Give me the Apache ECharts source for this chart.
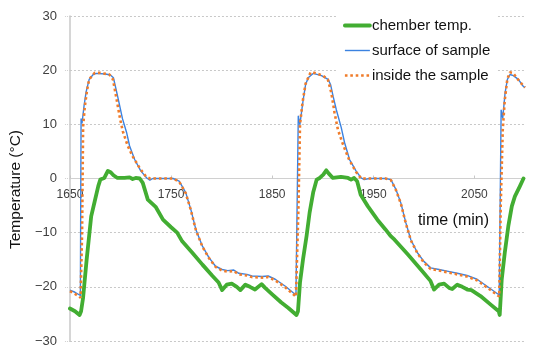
<!DOCTYPE html>
<html>
<head>
<meta charset="utf-8">
<script src="https://cdn.jsdelivr.net/npm/echarts@6/dist/echarts.min.js"></script>
<style>html,body{margin:0;padding:0;background:#fff}#c{width:550px;height:355px}</style>
</head>
<body>
<div id="c"></div>
<script>
// ---- data ----
var seriesNames = ['chember temp.', 'surface of sample', 'inside the sample'];

var chamberTime = [1650,1655,1659.5,1661,1663,1666.5,1671,1674.5,1678,1680,1684,1687.5,1690.5,1693,1697,1704,1709,1712,1715,1719,1722,1727,1735,1742,1750,1756,1761,1771,1781,1791,1797,1800.5,1805,1810,1815,1818.5,1823.5,1828,1833,1839.5,1843,1850,1859,1866,1874,1875.5,1877.5,1880.5,1884,1887,1890.5,1894,1897,1900.5,1903.5,1906,1910,1918,1925,1928,1931,1934,1937.5,1944.5,1954,1962,1967,1971,1984,1997,2006.5,2010,2015,2020,2025,2028,2033,2038,2043,2047,2056,2065.5,2074,2075,2077,2080,2083.5,2087,2090,2095,2098.5];
var chamberTemp = [-24.0,-24.5,-25.2,-24.5,-22.0,-15.0,-7.0,-4.2,-1.4,-0.2,0.1,1.4,1.1,0.6,0.1,0.1,0.2,-0.1,0.1,0,-0.8,-3.9,-5.3,-7.6,-9.0,-10.0,-11.6,-13.7,-15.9,-18.0,-19.2,-20.6,-19.6,-19.4,-20.0,-20.6,-19.6,-20.0,-20.5,-19.5,-20.2,-21.4,-22.9,-23.9,-25.2,-24.5,-19.2,-14.9,-10.6,-6.3,-2.6,-0.2,0.1,0.7,1.5,0.9,0.1,0.3,0.1,-0.2,0.1,-0.5,-3.0,-5.1,-7.6,-9.4,-10.6,-11.3,-14.0,-16.8,-18.9,-20.5,-19.6,-19.4,-20.2,-20.4,-19.6,-20.0,-20.5,-20.6,-21.7,-23.2,-24.5,-25.2,-18.6,-13.7,-8.8,-5.1,-3.3,-1.4,0];

var surfaceTime = [1650,1655,1660.3,1661,1662,1664,1666,1669,1673,1676,1685,1690,1693,1697,1702,1706,1709,1714,1720,1726,1729,1732,1752,1758,1764.5,1769.5,1774.5,1781,1787.5,1794,1800.5,1806,1812,1817,1825,1830,1840,1846,1853,1863,1873.5,1875.8,1877.4,1880.7,1883,1885.6,1890.5,1898.7,1905.3,1907.8,1910.2,1913.4,1918.3,1921.6,1926.5,1933,1938,1941,1946,1962,1967.4,1972.3,1977.2,1982.2,1987.1,1993.6,2000,2006.7,2015,2023,2033,2042.7,2052.6,2062.4,2074.5,2076.4,2078,2080.3,2082.6,2085.2,2088.5,2093.4,2098.3,2100];
var surfaceTemp = [-20.6,-21.0,-21.6,11.0,10.3,13.5,16.0,18.3,19.2,19.4,19.3,19.1,18.6,15.3,11.0,8.5,6.0,3.5,1.4,0.1,-0.3,0,0,-0.5,-2.6,-5.7,-9.4,-12.5,-14.6,-16.2,-16.8,-17.0,-16.9,-17.5,-17.7,-18.0,-18.1,-18.0,-18.6,-19.9,-21.5,11.5,10.0,14.6,17.3,18.6,19.4,19.0,18.3,17.3,15.2,12.7,9.4,6.6,3.5,1.35,0.1,-0.2,0,0,-0.2,-2.0,-4.5,-8.2,-11.3,-13.7,-15.3,-16.5,-16.8,-17.1,-17.5,-17.9,-18.6,-19.9,-21.5,12.6,11.2,15.8,18.3,19.2,19.0,18.3,17.0,16.8];

var insideTime = [1650,1655,1660.5,1662,1663,1664.7,1667,1669,1674.5,1680,1689,1692.5,1695,1697.4,1699.7,1702.3,1707.2,1712,1718.7,1725,1729,1752,1758,1764.5,1769.5,1774.5,1781,1787.5,1794,1800.5,1806,1812,1817,1825,1830,1840,1846,1853,1863,1873.5,1876,1877.5,1880,1883,1888,1892,1900,1905,1908.5,1911.7,1915,1920,1926,1933,1938,1962,1967.4,1972.3,1977.2,1982.2,1987.1,1993.6,2000,2006.7,2015,2023,2033,2042.7,2052.6,2062.4,2074.5,2076,2078,2080,2082.5,2085,2088,2093,2098,2100];
var insideTemp = [-20.8,-21.3,-22.0,-10.0,9.6,13.3,16.4,18.3,19.5,19.5,19.2,18.3,15.8,13.3,10.9,8.7,6.0,4.1,2.0,0.4,0,0,-0.6,-2.7,-5.8,-9.5,-12.6,-14.7,-16.3,-17.0,-17.2,-17.1,-17.7,-17.9,-18.2,-18.3,-18.2,-18.8,-20.1,-21.8,-5.0,10.0,14.0,17.5,19.6,19.5,19.0,18.3,15.8,12.1,9.0,6.3,3.5,1.2,0,0,-0.3,-2.1,-4.6,-8.3,-11.4,-13.8,-15.5,-16.7,-17.0,-17.3,-17.7,-18.1,-18.8,-20.1,-21.8,-5.0,9.0,14.5,18.3,19.6,19.5,18.3,17.2,16.8];

var xTicksMin = 1650, xTicksMax = 2100, xTickStep = 100;
var yTicksMin = -30, yTicksMax = 30, yTickStep = 10;

function zip(a, b) { return a.map(function (v, i) { return [v, b[i]]; }); }

var FONT = 'Liberation Sans';
var GRID_TOP = 16, GRID_BOTTOM = 14, H = 355;
// place the x axis on the y = 0 line (plot height * share of the range below 0)
var plotH = H - GRID_TOP - GRID_BOTTOM;
var zeroOffset = -plotH * (0 - yTicksMin) / (yTicksMax - yTicksMin);

var chart = echarts.init(document.getElementById('c'), null, { renderer: 'canvas' });
chart.setOption({
  animation: false,
  backgroundColor: '#ffffff',
  textStyle: { fontFamily: FONT },
  grid: { left: 67, right: 25, top: GRID_TOP, bottom: GRID_BOTTOM },
  legend: {
    orient: 'vertical',
    left: 336, top: 13,
    padding: [5, 6, 5, 7],
    backgroundColor: '#ffffff',
    itemWidth: 25, itemHeight: 16, itemGap: 10,
    itemStyle: { opacity: 0 },
    lineStyle: { width: 'inherit' },
    textStyle: { fontFamily: FONT, fontSize: 15, color: '#111', padding: [0, 0, 0, -3] },
    data: seriesNames
  },
  xAxis: {
    type: 'value',
    min: xTicksMin, max: xTicksMax, interval: xTickStep,
    offset: zeroOffset,
    name: 'time (min)',
    nameLocation: 'end',
    nameGap: -36,
    nameTextStyle: { fontFamily: FONT, fontSize: 16, color: '#111', align: 'right', verticalAlign: 'top', padding: [34, 0, 0, 0] },
    axisLine: { onZero: false, lineStyle: { color: '#d0d0d0', width: 1 } },
    axisTick: { show: true, inside: true, length: 3, lineStyle: { color: '#c8c8c8' } },
    axisLabel: {
      fontFamily: FONT, fontSize: 12, color: '#404040', margin: 10, showMaxLabel: false,
      formatter: function (v) { return v >= xTicksMax ? '' : String(v); }
    },
    splitLine: { show: false }
  },
  yAxis: {
    type: 'value',
    min: yTicksMin, max: yTicksMax, interval: yTickStep,
    name: 'Temperature (°C)',
    nameLocation: 'middle',
    nameRotate: 90,
    nameGap: 42,
    nameTextStyle: { fontFamily: FONT, fontSize: 15.5, color: '#111', padding: [0, 22, 0, 0] },
    axisLine: { show: true, lineStyle: { color: '#c8c8c8', width: 1.5 } },
    axisTick: { show: true, length: 5, lineStyle: { color: '#d0d0d0', type: 'dotted' } },
    axisLabel: {
      fontFamily: FONT, fontSize: 13, color: '#404040', margin: 13,
      formatter: function (v) { return v < 0 ? '\u2212' + Math.abs(v) : String(v); }
    },
    splitLine: { show: true, lineStyle: { color: '#c8c8c8', type: [2, 2], width: 1 } }
  },
  series: [
    {
      name: seriesNames[0], type: 'line', data: zip(chamberTime, chamberTemp),
      symbol: 'none', showSymbol: false, smooth: false, z: 2,
      lineStyle: { color: '#42ad32', width: 3.8, join: 'round', cap: 'round' },
      itemStyle: { color: '#42ad32' }
    },
    {
      name: seriesNames[1], type: 'line', data: zip(surfaceTime, surfaceTemp),
      symbol: 'none', showSymbol: false, smooth: false, z: 3,
      lineStyle: { color: '#3b82e0', width: 1.4, join: 'round' },
      itemStyle: { color: '#3b82e0' }
    },
    {
      name: seriesNames[2], type: 'line', data: zip(insideTime, insideTemp),
      symbol: 'none', showSymbol: false, smooth: false, z: 4,
      lineStyle: { color: '#f07c2a', width: 2.6, type: [2.6, 2.8] },
      itemStyle: { color: '#f07c2a' }
    }
  ]
});
</script>
</body>
</html>
